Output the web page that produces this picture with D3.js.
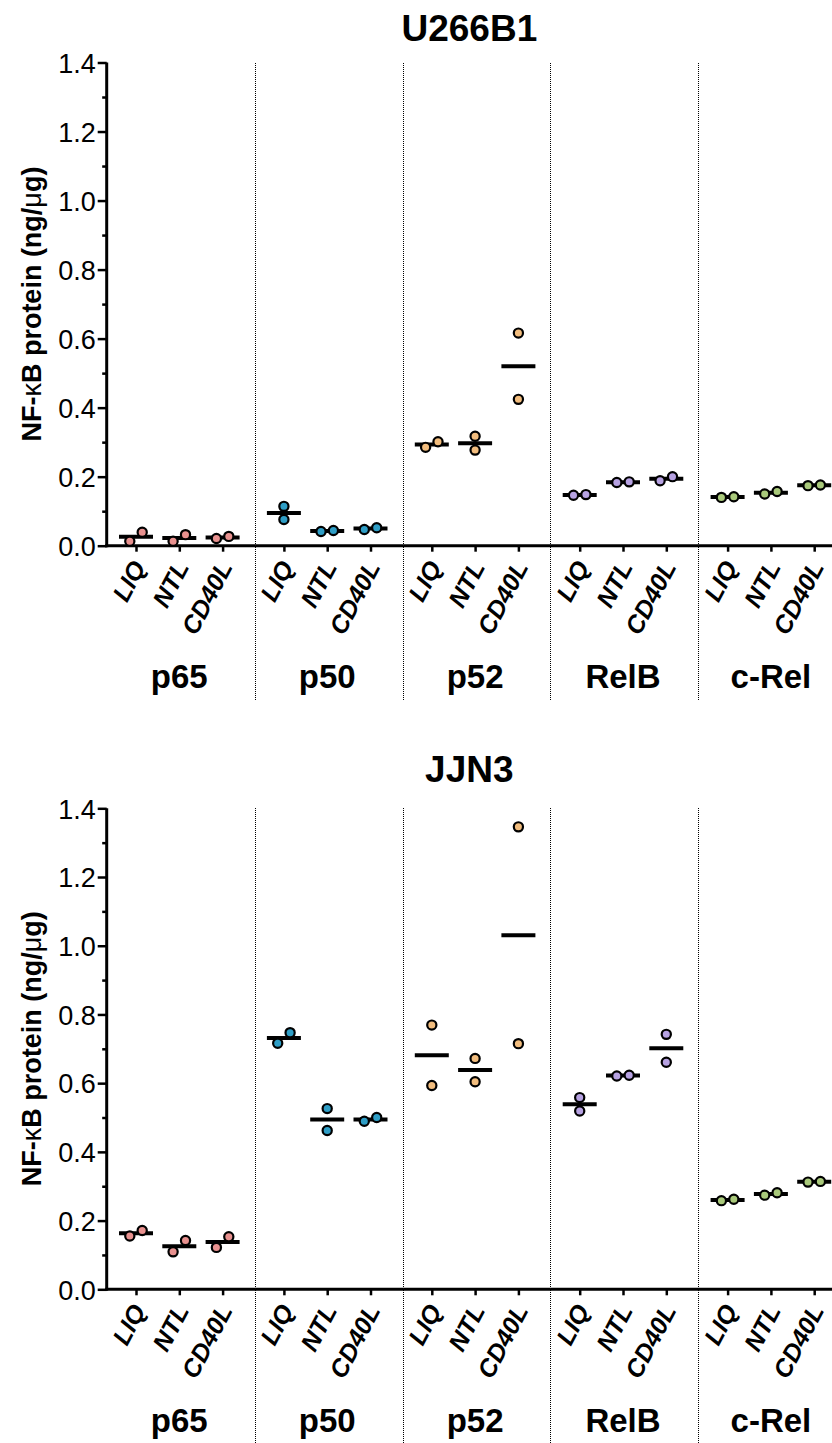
<!DOCTYPE html>
<html>
<head>
<meta charset="utf-8">
<script src="https://cdn.jsdelivr.net/npm/d3@7"></script>
<style>
  body { margin: 0; background: #fff; }
  svg { display: block; }
  text { font-family: "Liberation Sans", Arial, Helvetica, sans-serif; fill: #000; }
</style>
</head>
<body>
<svg id="chart" width="832" height="1443"></svg>
<script>
// NF-kB subunits and culture conditions
const proteins = ["p65", "p50", "p52", "RelB", "c-Rel"];
const conditions = ["LIQ", "NTL", "CD40L"];
const proteinColors = ["#e8918f", "#2f9ec6", "#f2bd7e", "#b7a2e2", "#a9c97b"];
const majorTicks = [0, 0.2, 0.4, 0.6, 0.8, 1.0, 1.2, 1.4];
const minorTicks = [0.1, 0.3, 0.5, 0.7, 0.9, 1.1, 1.3];

// Replicate measurements (ng/ug), one row per protein, one pair per condition
const u266b1Values = [
  [[0.013, 0.039], [0.013, 0.032], [0.021, 0.027]],
  [[0.114, 0.076], [0.041, 0.044], [0.047, 0.052]],
  [[0.285, 0.301], [0.317, 0.277], [0.616, 0.424]],
  [[0.146, 0.148], [0.183, 0.185], [0.188, 0.200]],
  [[0.140, 0.142], [0.150, 0.157], [0.174, 0.176]]
];
const jjn3Values = [
  [[0.155, 0.171], [0.109, 0.142], [0.122, 0.153]],
  [[0.716, 0.747], [0.526, 0.462], [0.489, 0.500]],
  [[0.769, 0.593], [0.672, 0.604], [1.346, 0.715]],
  [[0.558, 0.519], [0.621, 0.623], [0.742, 0.661]],
  [[0.258, 0.262], [0.274, 0.281], [0.312, 0.314]]
];

const svg = d3.select("#chart");
const W = 832;
const axisX = 106.7;

// groups share one band scale; conditions are placed within each band
const groupScale = d3.scaleBand().domain(proteins).range([axisX, axisX + 5 * 147.9]).padding(0);
const condScale = d3.scalePoint().domain(conditions).range([29.3, 115.9]);

function drawPanel(opts) {
  const { values, title, top, bottom, titleY, labelY, dividerEnd } = opts;
  const y = d3.scaleLinear().domain([0, 1.4]).range([bottom, top]);
  const g = svg.append("g");

  // title
  g.append("text")
    .attr("x", (axisX + W) / 2)
    .attr("y", titleY)
    .attr("text-anchor", "middle")
    .style("font-size", "37px")
    .style("font-weight", "bold")
    .text(title);

  // dotted dividers between protein groups
  g.selectAll("line.divider")
    .data(proteins.slice(1))
    .join("line")
    .attr("class", "divider")
    .attr("x1", d => Math.round(groupScale(d)) + 0.5)
    .attr("x2", d => Math.round(groupScale(d)) + 0.5)
    .attr("y1", Math.round(top))
    .attr("y2", dividerEnd)
    .attr("stroke", "#000")
    .attr("stroke-width", 1)
    .attr("stroke-dasharray", "1,1")
    .attr("shape-rendering", "crispEdges");

  // y axis: major ticks with labels, minor ticks without
  const yAxis = g.append("g").attr("transform", `translate(${axisX},0)`)
    .call(d3.axisLeft(y).tickValues(majorTicks).tickSize(9).tickSizeOuter(0).tickPadding(2)
      .tickFormat(d3.format(".1f")));
  yAxis.select(".domain").attr("stroke-width", 3).attr("d", `M0,${top}V${bottom + 1.5}`);
  yAxis.selectAll(".tick line").attr("stroke-width", 2.5);
  yAxis.selectAll(".tick text").style("font-size", "27px").attr("dy", "0.36em");

  const yMinor = g.append("g").attr("transform", `translate(${axisX},0)`)
    .call(d3.axisLeft(y).tickValues(minorTicks).tickSize(4.5).tickFormat(""));
  yMinor.select(".domain").remove();
  yMinor.selectAll(".tick line").attr("stroke-width", 2.5);

  // y axis title
  const yt = g.append("text")
    .attr("transform", `translate(41,${(top + bottom) / 2}) rotate(-90)`)
    .attr("text-anchor", "middle")
    .style("font-size", "27px")
    .style("font-weight", "bold");
  yt.append("tspan").text("NF-");
  yt.append("tspan").style("font-weight", "normal").text("κ");
  yt.append("tspan").text("B protein (ng/");
  yt.append("tspan").style("font-weight", "normal").text("μ");
  yt.append("tspan").text("g)");

  // x axis baseline
  g.append("line")
    .attr("x1", axisX - 1.5).attr("x2", W)
    .attr("y1", bottom).attr("y2", bottom)
    .attr("stroke", "#000").attr("stroke-width", 3);

  proteins.forEach((p, pi) => {
    const gx = g.append("g").attr("transform", `translate(${groupScale(p)},${bottom})`)
      .call(d3.axisBottom(condScale).tickSize(6).tickSizeOuter(0));
    gx.select(".domain").remove();
    gx.selectAll(".tick line").attr("stroke-width", 2.5);
    gx.selectAll(".tick text")
      .attr("x", 0).attr("y", 0).attr("dy", 0)
      .attr("text-anchor", "end")
      .attr("transform", "translate(10,21) rotate(-62)")
      .style("font-size", "25px")
      .style("font-weight", "bold")
      .style("font-style", "italic");

    // group label
    g.append("text")
      .attr("x", groupScale(p) + condScale("NTL"))
      .attr("y", labelY)
      .attr("text-anchor", "middle")
      .style("font-size", "33px")
      .style("font-weight", "bold")
      .text(p);

    // means and replicate points
    conditions.forEach((c, ci) => {
      const reps = values[pi][ci];
      const cx = groupScale(p) + condScale(c);
      const mean = d3.mean(reps);
      g.append("line")
        .attr("x1", cx - 17).attr("x2", cx + 17)
        .attr("y1", y(mean)).attr("y2", y(mean))
        .attr("stroke", "#000").attr("stroke-width", 4);
      // replicates close together sit side by side, otherwise stacked
      const apart = Math.abs(y(reps[0]) - y(reps[1])) >= 12;
      g.selectAll(null)
        .data(reps)
        .join("circle")
        .attr("cx", (d, i) => apart ? cx : cx + (i === 0 ? -6.2 : 6.2))
        .attr("cy", d => y(d))
        .attr("r", 4.6)
        .attr("fill", proteinColors[pi])
        .attr("stroke", "#000")
        .attr("stroke-width", 2.2);
    });
  });
}

drawPanel({ values: u266b1Values, title: "U266B1", top: 62.5, bottom: 545.7, titleY: 41, labelY: 688, dividerEnd: 700 });
drawPanel({ values: jjn3Values, title: "JJN3", top: 808.3, bottom: 1289.3, titleY: 781.7, labelY: 1432, dividerEnd: 1443 });
</script>
</body>
</html>
